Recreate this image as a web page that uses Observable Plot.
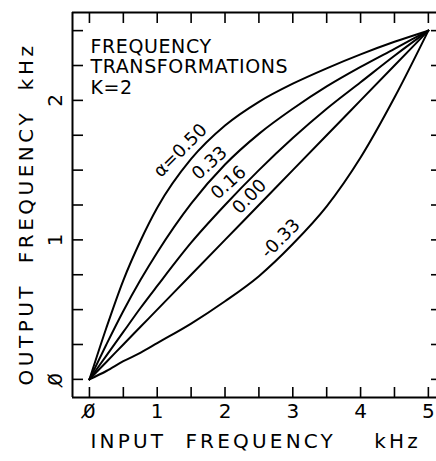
<!DOCTYPE html>
<html><head><meta charset="utf-8">
<script src="https://cdn.jsdelivr.net/npm/d3@7"></script>
<script src="https://cdn.jsdelivr.net/npm/@observablehq/plot@0.6"></script>
<style>
html,body{margin:0;padding:0;background:#fff;overflow:hidden}
#chart{width:436px;height:461px;overflow:hidden}
</style></head><body><div id="chart"></div>
<script>
// Input frequency samples (kHz)
const inputKHz = [0, 0.25, 0.5, 0.75, 1, 1.5, 2, 2.5, 3, 3.5, 4, 4.5, 5];
// Output frequency (kHz) for each warping coefficient alpha
const alphaNames = ["0.50", "0.33", "0.16", "0.00", "-0.33"];
const outA050 = [0, 0.37, 0.71, 0.99, 1.23, 1.58, 1.82, 1.99, 2.12, 2.23, 2.33, 2.42, 2.5];
const outA033 = [0, 0.25, 0.49, 0.71, 0.91, 1.26, 1.54, 1.76, 1.94, 2.10, 2.24, 2.37, 2.5];
const outA016 = [0, 0.17, 0.34, 0.51, 0.67, 0.98, 1.25, 1.50, 1.73, 1.94, 2.13, 2.32, 2.5];
const outA000 = [0, 0.125, 0.25, 0.375, 0.5, 0.75, 1.0, 1.25, 1.5, 1.75, 2.0, 2.25, 2.5];
const outAm033 = [0, 0.06, 0.13, 0.19, 0.26, 0.40, 0.56, 0.74, 0.97, 1.24, 1.59, 2.02, 2.5];
// Curve labels
const curveLabels = ["α=0.50", "0.33", "0.16", "0.00", "-0.33"];
// Tick values and labels
const xTickValues = [0, 1, 2, 3, 4, 5];
const xTickLabels = ["0\u0338", "1", "2", "3", "4", "5"];
const xMinorTicks = [0, 0.5, 1, 1.5, 2, 2.5, 3, 3.5, 4, 4.5, 5];
const yTickValues = [0, 1, 2];
const yTickLabels = ["0\u0338", "1", "2"];
const yMinorTicks = [0, 0.25, 0.5, 0.75, 1, 1.25, 1.5, 1.75, 2, 2.25, 2.5];
const xTitle = "INPUT\u00a0\u00a0FREQUENCY\u00a0\u00a0\u00a0\u00a0kHz";
const yTitle = "OUTPUT\u00a0\u00a0FREQUENCY\u00a0\u00a0kHz";
const insetTitle = ["FREQUENCY", "TRANSFORMATIONS", "K=2"];

const series = [outA050, outA033, outA016, outA000, outAm033];
const rows = [];
series.forEach((ys, k) => ys.forEach((y, i) => rows.push({x: inputKHz[i], y, alpha: alphaNames[k]})));

// label anchor positions (data units) and angles
const labelRows = [
  {x: 1.34, y: 1.64, r: -45, t: curveLabels[0]},
  {x: 1.77, y: 1.55, r: -42, t: curveLabels[1]},
  {x: 2.05, y: 1.41, r: -42, t: curveLabels[2]},
  {x: 2.36, y: 1.31, r: -46, t: curveLabels[3]},
  {x: 2.82, y: 1.01, r: -45, t: curveLabels[4]}
];

const xDomain = [-0.25, 5.12];
const yDomain = [-0.13, 2.63];
const font = "DejaVu Sans";
const W = 436, ML = 72, MR = 0;
const plotW = W - ML - MR;

const chart = Plot.plot({
  width: W, height: 461,
  marginLeft: ML, marginRight: MR, marginTop: 12, marginBottom: 64,
  x: {domain: xDomain},
  y: {domain: yDomain, axis: null},
  style: {fontFamily: font, color: "#000", background: "#fff", overflow: "visible"},
  marks: [
    Plot.ruleX([xDomain[0]], {stroke: "#000", strokeWidth: 2}),
    Plot.ruleY([yDomain[0]], {stroke: "#000", strokeWidth: 2}),
    Plot.ruleY([yDomain[1]], {stroke: "#000", strokeWidth: 2}),
    Plot.axisX(xMinorTicks, {anchor: "bottom", tickSize: -10, tickFormat: () => "", label: null, strokeWidth: 1.6}),
    Plot.axisX(xMinorTicks, {anchor: "top", tickSize: -10, tickFormat: () => "", label: null, strokeWidth: 1.6}),
    Plot.tickY(yMinorTicks, {y: d => d, insetRight: plotW - 11, stroke: "#000", strokeWidth: 1.6}),
    Plot.tickY(yMinorTicks, {y: d => d, insetLeft: plotW - 5, stroke: "#000", strokeWidth: 1.6}),
    Plot.text(xTickValues, {x: d => d, text: (d, i) => xTickLabels[i], frameAnchor: "bottom", dy: 20, fontSize: 20}),
    Plot.text(yTickValues, {y: d => d, text: (d, i) => yTickLabels[i], frameAnchor: "left", textAnchor: "middle", lineAnchor: "middle", dx: -17, rotate: -90, fontSize: 20}),
    Plot.text([xTitle], {frameAnchor: "bottom-left", textAnchor: "start", dx: 18, dy: 50, fontSize: 20}),
    Plot.text([yTitle], {frameAnchor: "left", textAnchor: "middle", lineAnchor: "middle", rotate: -90, dx: -46, dy: 9, fontSize: 20}),
    Plot.text([insetTitle.join("\n")], {frameAnchor: "top-left", textAnchor: "start", lineAnchor: "top", dx: 18, dy: 26, fontSize: 19, lineHeight: 1.07}),
    Plot.line(rows, {x: "x", y: "y", z: "alpha", curve: "monotone-x", stroke: "#000", strokeWidth: 2}),
    Plot.text(labelRows, {x: "x", y: "y", text: "t", rotate: "r", fontSize: 18})
  ]
});
document.getElementById("chart").appendChild(chart);
const sel = d3.select(chart).selectAll("text");
sel.filter(function () { return this.textContent === xTitle; }).style("letter-spacing", "3.2px");
sel.filter(function () { return this.textContent === yTitle; }).style("letter-spacing", "3.5px");
sel.filter(function () { return this.textContent.startsWith("FREQUENCY"); }).style("letter-spacing", "0.6px");
</script></body></html>
